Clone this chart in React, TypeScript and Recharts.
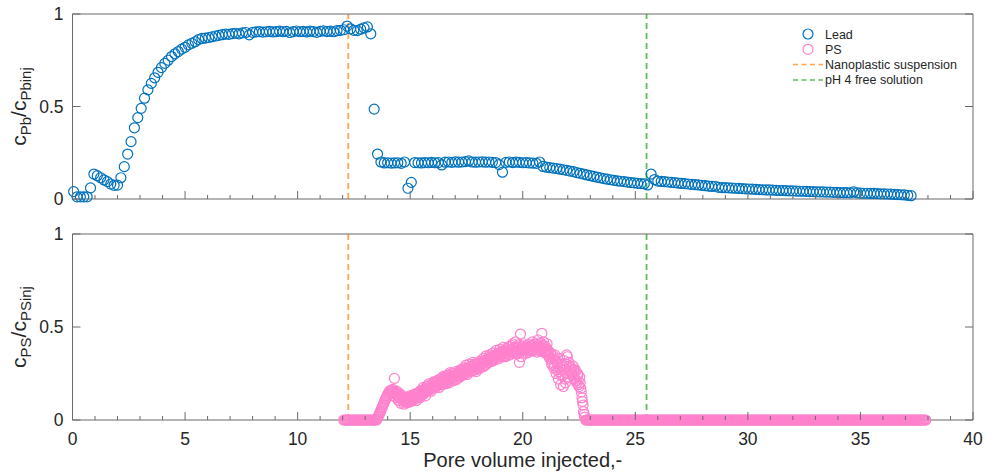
import { ScatterChart, Scatter, XAxis, YAxis, ReferenceLine } from 'recharts';

// x-axis ticks (minor every 1, labelled every 5) and y-axis ticks
const X_TICKS = [0, 1, 2, 3, 4, 5, 6, 7, 8, 9, 10, 11, 12, 13, 14, 15, 16, 17, 18, 19, 20, 21, 22, 23, 24, 25, 26, 27, 28, 29, 30, 31, 32, 33, 34, 35, 36, 37, 38, 39, 40];
const Y_TICKS = [0, 0.5, 1];

// injection switches (pore volumes)
const NANO_X = 12.25;
const FREE_X = 25.5;

// Lead breakthrough, c_Pb / c_Pbinj
const leadX = [
  0.05, 0.2, 0.35, 0.5, 0.65, 0.8, 0.95, 1.1, 1.25, 1.4, 1.55, 1.7, 1.85, 2, 2.15, 2.3, 2.45, 2.6, 2.75, 2.9,
  3.05, 3.2, 3.35, 3.5, 3.65, 3.8, 3.95, 4.1, 4.25, 4.4, 4.55, 4.7, 4.85, 5, 5.15, 5.3, 5.45, 5.6, 5.75, 5.9,
  6.05, 6.2, 6.35, 6.5, 6.65, 6.8, 6.95, 7.1, 7.25, 7.4, 7.55, 7.7, 7.85, 8, 8.15, 8.3, 8.45, 8.6, 8.75, 8.9,
  9.05, 9.2, 9.35, 9.5, 9.65, 9.8, 9.95, 10.1, 10.25, 10.4, 10.55, 10.7, 10.85, 11, 11.15, 11.3, 11.45, 11.6, 11.75, 11.9,
  12.05, 12.2, 12.35, 12.5, 12.65, 12.8, 12.95, 13.1, 13.25, 13.4, 13.55, 13.7, 13.85, 14, 14.15, 14.3, 14.45, 14.6, 14.75, 14.9,
  15.05, 15.2, 15.35, 15.5, 15.65, 15.8, 15.95, 16.1, 16.25, 16.4, 16.55, 16.7, 16.85, 17, 17.15, 17.3, 17.45, 17.6, 17.75, 17.9,
  18.05, 18.2, 18.35, 18.5, 18.65, 18.8, 18.95, 19.1, 19.25, 19.4, 19.55, 19.7, 19.85, 20, 20.15, 20.3, 20.45, 20.6, 20.75, 20.9,
  21.05, 21.2, 21.35, 21.5, 21.65, 21.8, 21.95, 22.1, 22.25, 22.4, 22.55, 22.7, 22.85, 23, 23.15, 23.3, 23.45, 23.6, 23.75, 23.9,
  24.05, 24.2, 24.35, 24.5, 24.65, 24.8, 24.95, 25.1, 25.25, 25.4, 25.55, 25.7, 25.85, 26, 26.15, 26.3, 26.45, 26.6, 26.75, 26.9,
  27.05, 27.2, 27.35, 27.5, 27.65, 27.8, 27.95, 28.1, 28.25, 28.4, 28.55, 28.7, 28.85, 29, 29.15, 29.3, 29.45, 29.6, 29.75, 29.9,
  30.05, 30.2, 30.35, 30.5, 30.65, 30.8, 30.95, 31.1, 31.25, 31.4, 31.55, 31.7, 31.85, 32, 32.15, 32.3, 32.45, 32.6, 32.75, 32.9,
  33.05, 33.2, 33.35, 33.5, 33.65, 33.8, 33.95, 34.1, 34.25, 34.4, 34.55, 34.7, 34.85, 35, 35.15, 35.3, 35.45, 35.6, 35.75, 35.9,
  36.05, 36.2, 36.35, 36.5, 36.65, 36.8, 36.95, 37.1, 37.25,
];
const leadY = [
  0.04, 0.012, 0.012, 0.012, 0.012, 0.06, 0.135, 0.126, 0.115, 0.103, 0.094, 0.081, 0.074, 0.075, 0.115, 0.175, 0.243, 0.31, 0.385, 0.44,
  0.49, 0.545, 0.59, 0.625, 0.655, 0.685, 0.71, 0.733, 0.75, 0.77, 0.785, 0.797, 0.81, 0.82, 0.833, 0.842, 0.85, 0.862, 0.868, 0.87,
  0.873, 0.877, 0.881, 0.885, 0.888, 0.891, 0.89, 0.894, 0.896, 0.893, 0.898, 0.9, 0.887, 0.901, 0.903, 0.905, 0.902, 0.904, 0.906, 0.903,
  0.905, 0.907, 0.904, 0.906, 0.9, 0.905, 0.908, 0.904, 0.906, 0.903, 0.907, 0.905, 0.901, 0.906, 0.909, 0.905, 0.907, 0.904, 0.91, 0.912,
  0.915, 0.935, 0.92, 0.912, 0.91, 0.918, 0.925, 0.93, 0.893, 0.486, 0.243, 0.2, 0.195, 0.196, 0.194, 0.195, 0.196, 0.193, 0.2, 0.058,
  0.09, 0.197, 0.196, 0.195, 0.197, 0.196, 0.198, 0.196, 0.197, 0.184, 0.199, 0.2, 0.198, 0.201, 0.199, 0.2, 0.202, 0.206, 0.2, 0.199,
  0.2, 0.201, 0.199, 0.2, 0.198, 0.197, 0.186, 0.145, 0.198, 0.2, 0.197, 0.199, 0.198, 0.196, 0.197, 0.195, 0.194, 0.193, 0.2, 0.176,
  0.172, 0.17, 0.167, 0.165, 0.161, 0.158, 0.155, 0.151, 0.148, 0.143, 0.139, 0.135, 0.13, 0.126, 0.122, 0.118, 0.114, 0.11, 0.107, 0.104,
  0.101, 0.098, 0.096, 0.094, 0.091, 0.089, 0.087, 0.085, 0.083, 0.082, 0.076, 0.135, 0.105, 0.097, 0.095, 0.094, 0.092, 0.09, 0.088, 0.086,
  0.084, 0.083, 0.081, 0.079, 0.078, 0.076, 0.074, 0.072, 0.07, 0.068, 0.069, 0.063, 0.062, 0.061, 0.06, 0.059, 0.058, 0.057, 0.056, 0.055,
  0.054, 0.053, 0.052, 0.051, 0.05, 0.049, 0.049, 0.048, 0.047, 0.046, 0.046, 0.045, 0.044, 0.044, 0.043, 0.042, 0.042, 0.041, 0.04, 0.04,
  0.039, 0.039, 0.038, 0.037, 0.037, 0.036, 0.036, 0.035, 0.034, 0.034, 0.033, 0.038, 0.033, 0.032, 0.031, 0.031, 0.03, 0.03, 0.029, 0.028,
  0.028, 0.027, 0.026, 0.025, 0.024, 0.023, 0.022, 0.02, 0.018,
];

// PS (nanoplastic) breakthrough, c_PS / c_PSinj
const PS_BASE = 0;
const psZeroBefore = [
  12.05, 12.1, 12.15, 12.2, 12.25, 12.3, 12.35, 12.4, 12.45, 12.5, 12.55, 12.6, 12.65, 12.7, 12.75,
  12.8, 12.85, 12.9, 12.95, 13, 13.05, 13.1, 13.15, 13.2, 13.25, 13.3, 13.35, 13.4, 13.45,
];
const psX = [
  13.5, 13.53, 13.56, 13.59, 13.62, 13.65, 13.68, 13.71, 13.74, 13.77, 13.8, 13.83, 13.86, 13.89, 13.92, 13.95, 13.98, 14.01, 14.04, 14.07, 14.1,
  14.15, 14.2, 14.25, 14.3, 14.35, 14.4, 14.45, 14.5, 14.55, 14.6, 14.65, 14.7, 14.75, 14.8, 14.85, 14.9, 14.95, 15, 15.05, 15.1,
  15.15, 15.2, 15.25, 15.3, 15.35, 15.4, 15.45, 15.5, 15.55, 15.6, 15.65, 15.7, 15.75, 15.8, 15.85, 15.9, 15.95, 16, 16.05, 16.1,
  16.15, 16.2, 16.25, 16.3, 16.35, 16.4, 16.45, 16.5, 16.55, 16.6, 16.65, 16.7, 16.75, 16.8, 16.85, 16.9, 16.95, 17, 17.05, 17.1,
  17.15, 17.2, 17.25, 17.3, 17.35, 17.4, 17.45, 17.5, 17.55, 17.6, 17.65, 17.7, 17.75, 17.8, 17.85, 17.9, 17.95, 18, 18.05, 18.1,
  18.15, 18.2, 18.25, 18.3, 18.35, 18.4, 18.45, 18.5, 18.55, 18.6, 18.65, 18.7, 18.75, 18.8, 18.85, 18.9, 18.95, 19, 19.05, 19.1,
  19.15, 19.2, 19.25, 19.3, 19.35, 19.4, 19.45, 19.5, 19.55, 19.6, 19.65, 19.7, 19.75, 19.8, 19.85, 19.9, 19.95, 20, 20.05, 20.1,
  20.15, 20.2, 20.25, 20.3, 20.35, 20.4, 20.45, 20.5, 20.55, 20.6, 20.65, 20.7, 20.75, 20.8, 20.85, 20.9, 20.95, 21, 21.05, 21.1,
  21.15, 21.2, 21.25, 21.3, 21.35, 21.4, 21.45, 21.5, 21.55, 21.6, 21.65, 21.7, 21.75, 21.8, 21.85, 21.9, 21.95, 22, 22.05, 22.1,
  22.15, 22.2, 22.25, 22.3, 22.35, 22.4, 22.45, 22.5, 22.55, 22.6, 22.65, 22.7, 22.75,
];
const psY = [
  0, 0.005, 0.013, 0.021, 0.03, 0.038, 0.046, 0.055, 0.064, 0.072, 0.081, 0.09, 0.099, 0.107, 0.116, 0.124, 0.132, 0.139, 0.146, 0.152, 0.157,
  0.16, 0.158, 0.15, 0.224, 0.14, 0.155, 0.13, 0.145, 0.12, 0.135, 0.11, 0.125, 0.1, 0.118, 0.098, 0.112, 0.095, 0.115, 0.1, 0.125,
  0.11, 0.13, 0.115, 0.14, 0.125, 0.15, 0.13, 0.145, 0.16, 0.14, 0.165, 0.15, 0.17, 0.185, 0.16, 0.175, 0.19, 0.17, 0.2, 0.185,
  0.2, 0.185, 0.215, 0.195, 0.205, 0.225, 0.2, 0.215, 0.23, 0.205, 0.22, 0.24, 0.215, 0.23, 0.25, 0.225, 0.24, 0.215, 0.245, 0.235,
  0.25, 0.23, 0.265, 0.245, 0.255, 0.275, 0.25, 0.265, 0.28, 0.26, 0.27, 0.29, 0.265, 0.28, 0.3, 0.27, 0.285, 0.295, 0.275, 0.29,
  0.3, 0.285, 0.31, 0.32, 0.295, 0.315, 0.33, 0.31, 0.325, 0.34, 0.315, 0.33, 0.345, 0.325, 0.34, 0.355, 0.33, 0.35, 0.365, 0.34,
  0.36, 0.345, 0.37, 0.355, 0.38, 0.35, 0.365, 0.375, 0.41, 0.36, 0.37, 0.385, 0.355, 0.375, 0.31, 0.462, 0.37, 0.38, 0.36, 0.39,
  0.375, 0.39, 0.365, 0.38, 0.395, 0.37, 0.385, 0.4, 0.375, 0.39, 0.41, 0.38, 0.395, 0.37, 0.466, 0.385, 0.4, 0.36, 0.38, 0.35,
  0.37, 0.33, 0.355, 0.31, 0.345, 0.29, 0.32, 0.27, 0.3, 0.26, 0.33, 0.24, 0.29, 0.18, 0.27, 0.2, 0.35, 0.25, 0.31, 0.26,
  0.28, 0.24, 0.27, 0.22, 0.26, 0.2, 0.24, 0.18, 0.2, 0.15, 0.1, 0.045, 0.015,
];
// a second, interleaved run of PS samples through the peak
const psX2 = [
  14.18, 14.23, 14.28, 14.33, 14.38, 14.43, 14.48, 14.53, 14.58, 14.63, 14.68, 14.73, 14.78, 14.83, 14.88, 14.93, 14.98, 15.03, 15.08, 15.13,
  15.18, 15.23, 15.28, 15.33, 15.38, 15.43, 15.48, 15.53, 15.58, 15.63, 15.68, 15.73, 15.78, 15.83, 15.88, 15.93, 15.98, 16.03, 16.08, 16.13,
  16.18, 16.23, 16.28, 16.33, 16.38, 16.43, 16.48, 16.53, 16.58, 16.63, 16.68, 16.73, 16.78, 16.83, 16.88, 16.93, 16.98, 17.03, 17.08, 17.13,
  17.18, 17.23, 17.28, 17.33, 17.38, 17.43, 17.48, 17.53, 17.58, 17.63, 17.68, 17.73, 17.78, 17.83, 17.88, 17.93, 17.98, 18.03, 18.08, 18.13,
  18.18, 18.23, 18.28, 18.33, 18.38, 18.43, 18.48, 18.53, 18.58, 18.63, 18.68, 18.73, 18.78, 18.83, 18.88, 18.93, 18.98, 19.03, 19.08, 19.13,
  19.18, 19.23, 19.28, 19.33, 19.38, 19.43, 19.48, 19.53, 19.58, 19.63, 19.68, 19.73, 19.78, 19.83, 19.88, 19.93, 19.98, 20.03, 20.08, 20.13,
  20.18, 20.23, 20.28, 20.33, 20.38, 20.43, 20.48, 20.53, 20.58, 20.63, 20.68, 20.73, 20.78, 20.83, 20.88, 20.93, 20.98, 21.03, 21.08, 21.13,
  21.18, 21.23, 21.28, 21.33, 21.38, 21.43, 21.48, 21.53, 21.58, 21.63, 21.68, 21.73, 21.78, 21.83, 21.88, 21.93, 21.98, 22.03, 22.08, 22.13,
  22.18, 22.23, 22.28, 22.33, 22.38, 22.43, 22.48, 22.53, 22.58, 22.63, 22.68, 22.73,
];
const psY2 = [
  0.145, 0.165, 0.13, 0.15, 0.12, 0.14, 0.105, 0.13, 0.09, 0.12, 0.1, 0.085, 0.11, 0.095, 0.12, 0.1, 0.13, 0.105, 0.12, 0.135,
  0.12, 0.14, 0.105, 0.135, 0.15, 0.12, 0.16, 0.14, 0.175, 0.15, 0.13, 0.18, 0.16, 0.195, 0.17, 0.155, 0.19, 0.205, 0.18, 0.175,
  0.21, 0.19, 0.175, 0.22, 0.205, 0.19, 0.235, 0.21, 0.195, 0.24, 0.22, 0.2, 0.255, 0.23, 0.21, 0.25, 0.235, 0.26, 0.22, 0.255,
  0.235, 0.27, 0.255, 0.24, 0.28, 0.26, 0.295, 0.245, 0.275, 0.3, 0.26, 0.285, 0.31, 0.27, 0.295, 0.26, 0.305, 0.28, 0.315, 0.3,
  0.31, 0.33, 0.29, 0.32, 0.345, 0.305, 0.335, 0.35, 0.32, 0.34, 0.36, 0.33, 0.35, 0.375, 0.34, 0.36, 0.38, 0.345, 0.37, 0.39,
  0.37, 0.34, 0.385, 0.36, 0.395, 0.35, 0.38, 0.4, 0.365, 0.39, 0.42, 0.36, 0.385, 0.405, 0.37, 0.34, 0.395, 0.41, 0.375, 0.4,
  0.36, 0.385, 0.405, 0.375, 0.4, 0.42, 0.38, 0.41, 0.39, 0.365, 0.43, 0.395, 0.41, 0.38, 0.4, 0.42, 0.37, 0.39, 0.41, 0.36,
  0.34, 0.36, 0.3, 0.33, 0.28, 0.35, 0.25, 0.31, 0.22, 0.28, 0.19, 0.3, 0.24, 0.32, 0.22, 0.3, 0.34, 0.23, 0.29, 0.27,
  0.25, 0.29, 0.23, 0.27, 0.21, 0.25, 0.19, 0.23, 0.17, 0.12, 0.08, 0.03,
];
const psZeroAfter = [
  22.8, 22.85, 22.9, 22.95, 23, 23.05, 23.1, 23.15, 23.2, 23.25, 23.3, 23.35, 23.4, 23.45, 23.5, 23.55, 23.6, 23.65, 23.7, 23.75,
  23.8, 23.85, 23.9, 23.95, 24, 24.05, 24.1, 24.15, 24.2, 24.25, 24.3, 24.35, 24.4, 24.45, 24.5, 24.55, 24.6, 24.65, 24.7, 24.75,
  24.8, 24.85, 24.9, 24.95, 25, 25.05, 25.1, 25.15, 25.2, 25.25, 25.3, 25.35, 25.4, 25.45, 25.5, 25.55, 25.6, 25.65, 25.7, 25.75,
  25.8, 25.85, 25.9, 25.95, 26, 26.05, 26.1, 26.15, 26.2, 26.25, 26.3, 26.35, 26.4, 26.45, 26.5, 26.55, 26.6, 26.65, 26.7, 26.75,
  26.8, 26.85, 26.9, 26.95, 27, 27.05, 27.1, 27.15, 27.2, 27.25, 27.3, 27.35, 27.4, 27.45, 27.5, 27.55, 27.6, 27.65, 27.7, 27.75,
  27.8, 27.85, 27.9, 27.95, 28, 28.05, 28.1, 28.15, 28.2, 28.25, 28.3, 28.35, 28.4, 28.45, 28.5, 28.55, 28.6, 28.65, 28.7, 28.75,
  28.8, 28.85, 28.9, 28.95, 29, 29.05, 29.1, 29.15, 29.2, 29.25, 29.3, 29.35, 29.4, 29.45, 29.5, 29.55, 29.6, 29.65, 29.7, 29.75,
  29.8, 29.85, 29.9, 29.95, 30, 30.05, 30.1, 30.15, 30.2, 30.25, 30.3, 30.35, 30.4, 30.45, 30.5, 30.55, 30.6, 30.65, 30.7, 30.75,
  30.8, 30.85, 30.9, 30.95, 31, 31.05, 31.1, 31.15, 31.2, 31.25, 31.3, 31.35, 31.4, 31.45, 31.5, 31.55, 31.6, 31.65, 31.7, 31.75,
  31.8, 31.85, 31.9, 31.95, 32, 32.05, 32.1, 32.15, 32.2, 32.25, 32.3, 32.35, 32.4, 32.45, 32.5, 32.55, 32.6, 32.65, 32.7, 32.75,
  32.8, 32.85, 32.9, 32.95, 33, 33.05, 33.1, 33.15, 33.2, 33.25, 33.3, 33.35, 33.4, 33.45, 33.5, 33.55, 33.6, 33.65, 33.7, 33.75,
  33.8, 33.85, 33.9, 33.95, 34, 34.05, 34.1, 34.15, 34.2, 34.25, 34.3, 34.35, 34.4, 34.45, 34.5, 34.55, 34.6, 34.65, 34.7, 34.75,
  34.8, 34.85, 34.9, 34.95, 35, 35.05, 35.1, 35.15, 35.2, 35.25, 35.3, 35.35, 35.4, 35.45, 35.5, 35.55, 35.6, 35.65, 35.7, 35.75,
  35.8, 35.85, 35.9, 35.95, 36, 36.05, 36.1, 36.15, 36.2, 36.25, 36.3, 36.35, 36.4, 36.45, 36.5, 36.55, 36.6, 36.65, 36.7, 36.75,
  36.8, 36.85, 36.9, 36.95, 37, 37.05, 37.1, 37.15, 37.2, 37.25, 37.3, 37.35, 37.4, 37.45, 37.5, 37.55, 37.6, 37.65, 37.7, 37.75,
  37.8, 37.85, 37.9,
];

const FONT = '"Liberation Sans", Arial, Helvetica, sans-serif';
const AXIS = '#6a6a6a';
const TEXT = '#262626';
const BLUE = '#0072bd';
const PINK = '#ff80cc';
const ORANGE = '#ffa54f';
const GREEN = '#5cbf5c';

const leadData = leadX.map((x, i) => ({ x, y: leadY[i] }));
const psData = [
  ...psZeroBefore.map(x => ({ x, y: PS_BASE })),
  ...psX.map((x, i) => ({ x, y: psY[i] })),
  ...psX2.map((x, i) => ({ x, y: psY2[i] })),
  ...psZeroAfter.map(x => ({ x, y: PS_BASE })),
];

// hollow circle markers like matlab 'o'
const ring = (color: string) => (p: any) => (
  <circle cx={p.cx} cy={p.cy} r={5} fill="none" stroke={color} strokeWidth={1.2} />
);

// ticks point into the plot; dir = -1 for bottom axis, +1 for top axis
const xTick = (dir: number, labels: boolean) => (p: any) => {
  const v = p.payload.value;
  const major = v % 5 === 0;
  return (
    <g>
      <line x1={p.x} y1={p.y} x2={p.x} y2={p.y + dir * (major ? 8 : 4)} stroke={AXIS} />
      {labels && major && (
        <text x={p.x} y={p.y + 25} textAnchor="middle" fontSize={17.5} fontFamily={FONT} fill={TEXT}>
          {v}
        </text>
      )}
    </g>
  );
};

const yTick = (dir: number, labels: boolean) => (p: any) => {
  const v = p.payload.value;
  return (
    <g>
      <line x1={p.x} y1={p.y} x2={p.x + dir * 8} y2={p.y} stroke={AXIS} />
      {labels && (
        <text x={p.x - 9} y={p.y + 6} textAnchor="end" fontSize={17.5} fontFamily={FONT} fill={TEXT}>
          {v}
        </text>
      )}
    </g>
  );
};

const yTitle = (main: string, sub1: string, sub2: string) => (p: any) => {
  const vb = p.viewBox || {};
  const cy = (vb.y ?? 0) + (vb.height ?? 0) / 2;
  return (
    <text transform={`translate(26,${cy}) rotate(-90)`} textAnchor="middle" fontSize={21} fontFamily={FONT} fill={TEXT}>
      {main}
      <tspan fontSize={15} dy={5}>{sub1}</tspan>
      <tspan dy={-5}>/{main}</tspan>
      <tspan fontSize={15} dy={5}>{sub2}</tspan>
    </text>
  );
};

const xTitle = (p: any) => {
  const vb = p.viewBox || {};
  return (
    <text x={(vb.x ?? 0) + (vb.width ?? 0) / 2} y={(vb.y ?? 0) + 47} textAnchor="middle" fontSize={20} fontFamily={FONT} fill={TEXT}>
      Pore volume injected,-
    </text>
  );
};

function Panel({ data, color, height, bottom, labels, title }: any) {
  return (
    <ScatterChart width={986} height={height} margin={{ top: 13, right: 12, bottom: 0, left: 0 }}>
      <XAxis xAxisId="b" type="number" dataKey="x" domain={[0, 40]} ticks={X_TICKS} interval={0} height={bottom}
        tickSize={0} tickMargin={0} tickLine={false} axisLine={{ stroke: AXIS }} tick={xTick(-1, labels)}
        label={labels ? xTitle : undefined} />
      <XAxis xAxisId="t" orientation="top" type="number" domain={[0, 40]} ticks={X_TICKS} interval={0} height={1}
        tickSize={0} tickMargin={0} tickLine={false} axisLine={{ stroke: AXIS }} tick={xTick(1, false)} allowDataOverflow />
      <YAxis yAxisId="l" type="number" dataKey="y" domain={[0, 1]} ticks={Y_TICKS} interval={0} width={72.5}
        tickSize={0} tickMargin={0} tickLine={false} axisLine={{ stroke: AXIS }} tick={yTick(1, true)} label={title} />
      <YAxis yAxisId="r" orientation="right" type="number" domain={[0, 1]} ticks={Y_TICKS} interval={0} width={1}
        tickSize={0} tickMargin={0} tickLine={false} axisLine={{ stroke: AXIS }} tick={yTick(-1, false)} allowDataOverflow />
      <Scatter xAxisId="b" yAxisId="l" data={data} shape={ring(color)} isAnimationActive={false} />
      <ReferenceLine xAxisId="b" yAxisId="l" x={NANO_X} stroke={ORANGE} strokeWidth={1.8} strokeDasharray="6 4" />
      <ReferenceLine xAxisId="b" yAxisId="l" x={FREE_X} stroke={GREEN} strokeWidth={1.8} strokeDasharray="6 4" />
    </ScatterChart>
  );
}

function LegendBox() {
  const rows = [
    { label: 'Lead', kind: 'marker', color: BLUE },
    { label: 'PS', kind: 'marker', color: PINK },
    { label: 'Nanoplastic suspension', kind: 'line', color: ORANGE },
    { label: 'pH 4 free solution', kind: 'line', color: GREEN },
  ];
  return (
    <svg width={190} height={70} style={{ position: 'absolute', left: 788, top: 24 }}>
      {rows.map((r, i) => {
        const y = 10 + i * 15.3;
        return (
          <g key={r.label}>
            {r.kind === 'marker' ? (
              <circle cx={20} cy={y} r={5} fill="none" stroke={r.color} strokeWidth={1.2} />
            ) : (
              <line x1={5} y1={y} x2={35} y2={y} stroke={r.color} strokeWidth={1.5} strokeDasharray="5 3.5" />
            )}
            <text x={37} y={y + 4.5} fontSize={12.5} fontFamily={FONT} fill={TEXT}>{r.label}</text>
          </g>
        );
      })}
    </svg>
  );
}

export default function App() {
  return (
    <div style={{ position: 'absolute', left: 0, top: 0, width: 986, height: 472, background: '#fff' }}>
      <div style={{ position: 'absolute', left: 0, top: 0 }}>
        <Panel data={leadData} color={BLUE} height={210} bottom={11} labels={false}
          title={yTitle('c', 'Pb', 'Pbinj')} />
      </div>
      <div style={{ position: 'absolute', left: 0, top: 220 }}>
        <Panel data={psData} color={PINK} height={252} bottom={52} labels={true}
          title={yTitle('c', 'PS', 'PSinj')} />
      </div>
      <LegendBox />
    </div>
  );
}
